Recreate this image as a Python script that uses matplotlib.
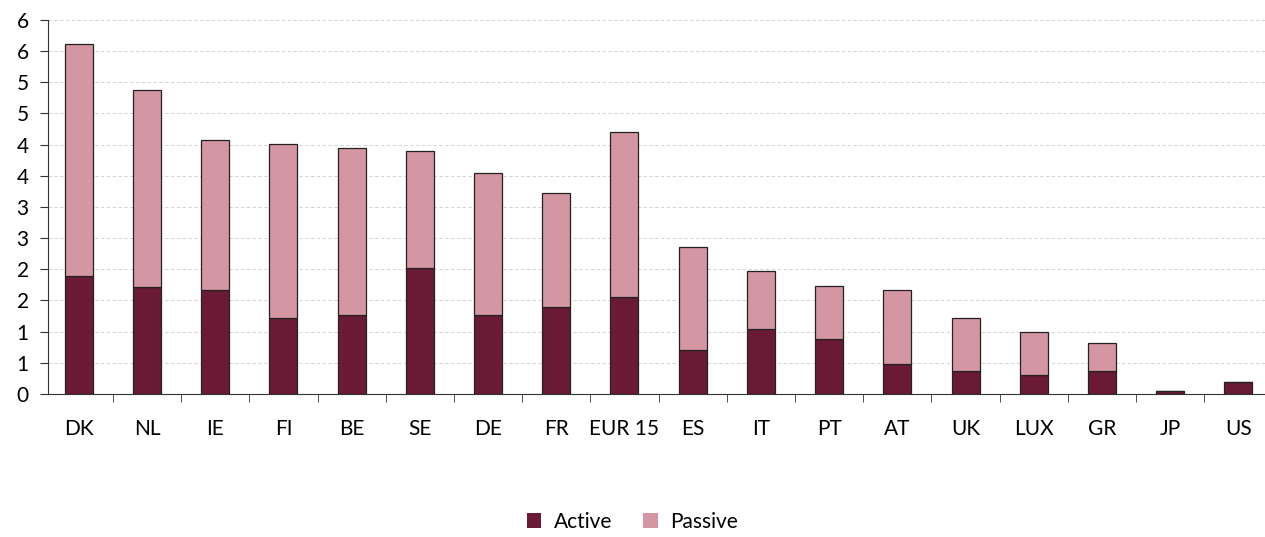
import numpy as np
import matplotlib.pyplot as plt
from matplotlib.ticker import FixedLocator

countries = ['DK', 'NL', 'IE', 'FI', 'BE', 'SE', 'DE', 'FR', 'EUR 15', 'ES',
             'IT', 'PT', 'AT', 'UK', 'LUX', 'GR', 'JP', 'US']
active = [1.89, 1.72, 1.67, 1.22, 1.27, 2.02, 1.27, 1.40, 1.56, 0.71,
          1.04, 0.88, 0.48, 0.37, 0.30, 0.37, 0.05, 0.19]
total = [5.62, 4.88, 4.08, 4.01, 3.95, 3.90, 3.55, 3.23, 4.21, 2.36,
         1.97, 1.73, 1.67, 1.22, 1.00, 0.82, 0.05, 0.19]
passive = [t - a for t, a in zip(total, active)]

yticks = np.arange(0, 6.01, 0.5)
ytick_labels = ['0', '1', '1', '2', '2', '3', '3', '4', '4', '5', '5', '6', '6']

plt.rcParams['font.family'] = ['Lato', 'DejaVu Sans']

fig = plt.figure(figsize=(12.65, 5.37), dpi=100)
ax = fig.add_axes([0.038, 0.2663, 0.962, 0.6965])

x = np.arange(len(countries))
c_act = '#6b1a35'
c_pas = '#d596a4'
ax.bar(x, active, width=0.41, color=c_act, edgecolor='#222222', linewidth=0.9,
       label='Active', zorder=3)
ax.bar(x, passive, width=0.41, bottom=active, color=c_pas, edgecolor='#222222',
       linewidth=0.9, label='Passive', zorder=3)

ax.set_xlim(-0.45, 17.39)
ax.set_ylim(0, 6)
ax.set_yticks(yticks)
ax.set_yticklabels(ytick_labels, fontsize=15)
ax.set_xticks(x)
ax.set_xticklabels(countries, fontsize=15)
ax.tick_params(axis='x', which='major', length=0, pad=18)
ax.xaxis.set_minor_locator(FixedLocator(x[:-1] + 0.5))
ax.tick_params(axis='x', which='minor', length=6, direction='out', color='#333333')
ax.tick_params(axis='y', length=6, direction='out', color='#333333', pad=8)

ax.grid(axis='y', color='#cccccc', linestyle=(0, (4, 3)), linewidth=0.6, zorder=0)
for s in ['top', 'right']:
    ax.spines[s].set_visible(False)
ax.spines['left'].set_color('#333333')
ax.spines['bottom'].set_color('#333333')

fig.legend(loc='lower center', bbox_to_anchor=(0.5, -0.025), ncol=2, frameon=False,
           fontsize=15, handlelength=0.7, handleheight=0.7, columnspacing=1.5,
           handletextpad=0.6)
for h in fig.legends[0].legend_handles:
    h.set_edgecolor('none')

fig.savefig('out.png', dpi=100)
